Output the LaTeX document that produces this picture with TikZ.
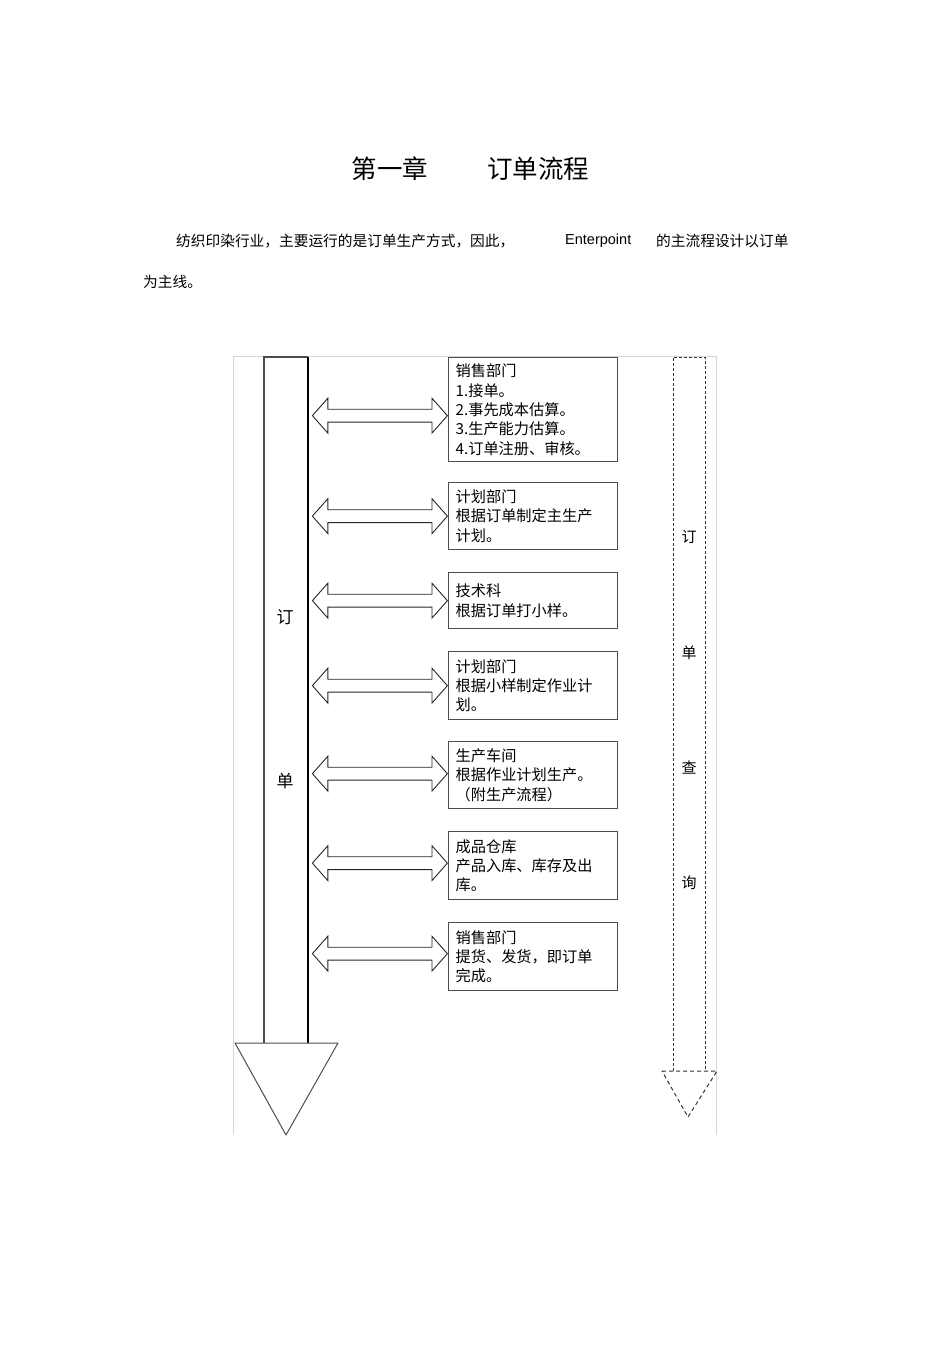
\documentclass[tikz,border=0pt]{standalone}
\usepackage{fontspec}
\setmainfont{Noto Sans CJK SC}
\newfontfamily\enfont{Liberation Sans}
\usetikzlibrary{shapes.arrows}
\definecolor{framegray}{gray}{0.84}
\definecolor{linegray}{gray}{0.3}
\begin{document}
\begin{tikzpicture}[x=1pt, y=-1pt,
	stepbox/.style={draw=linegray, line width=1.3pt, minimum width=169pt, text width=155pt, align=left, inner xsep=7pt, inner ysep=0pt, anchor=north west, font=\fontsize{15.2}{19.3}\selectfont},
	dbl/.style={double arrow, draw=black!85, line width=0.9pt, fill=white, minimum height=135pt, double arrow head extend=11pt, double arrow tip angle=97, inner sep=0pt, inner ysep=6pt, anchor=east},
	lbl/.style={inner sep=0pt, font=\fontsize{15}{15}\selectfont}]
	\useasboundingbox (0,0) rectangle (950,1345);
		\node[font=\fontsize{25.5}{25.5}\selectfont] (t1) at (390,169) {第一章};
		\node[font=\fontsize{25.5}{25.5}\selectfont] (t2) at (538,169) {订单流程};
		\node[anchor=west, inner sep=0pt, font=\fontsize{14.7}{14.7}\selectfont] (p1) at (176,241) {纺织印染行业，主要运行的是订单生产方式，因此，};
		\node[anchor=west, inner sep=0pt, font=\enfont\fontsize{14.5}{14.5}\selectfont] (p2) at (565,241) {Enterpoint};
		\node[anchor=west, inner sep=0pt, font=\fontsize{14.7}{14.7}\selectfont] (p3) at (656,241) {的主流程设计以订单};
		\node[anchor=west, inner sep=0pt, font=\fontsize{14.7}{14.7}\selectfont] (p4) at (143,282) {为主线。};
		\draw[framegray, line width=0.8pt] (233,1135) -- (233,356) -- (716,356) -- (716,1135);
		\draw[linegray, line width=1.3pt] (264,1043) -- (264,357) -- (308,357);
		\draw[black, line width=2pt] (308,357) -- (308,1043);
		\draw[linegray, line width=1pt, line join=round] (235,1043) -- (338,1043) -- (286,1135) -- cycle;
		\node[lbl, font=\fontsize{17}{17}\selectfont] (m1) at (285,617) {订};
		\node[lbl, font=\fontsize{17}{17}\selectfont] (m2) at (285,781) {单};
		\draw[black!80, line width=1pt, dash pattern=on 3pt off 2pt] (673,1071) -- (673,357) -- (705,357) -- (705,1071);
		\draw[black!80, line width=1pt, dash pattern=on 4pt off 3pt] (662,1071) -- (717,1071) -- (688,1117) -- cycle;
		\node[lbl] (q1) at (689,537) {订};
		\node[lbl] (q2) at (689,653) {单};
		\node[lbl] (q3) at (689,768) {查};
		\node[lbl] (q4) at (689,883) {询};
		\node[stepbox, minimum height=104pt] (b1) at (448,357) {销售部门\\1.接单。\\2.事先成本估算。\\3.生产能力估算。\\4.订单注册、审核。};
		\node[stepbox, minimum height=67pt] (b2) at (448,482) {计划部门\\根据订单制定主生产\\计划。};
		\node[stepbox, minimum height=56pt] (b3) at (448,572) {技术科\\根据订单打小样。};
		\node[stepbox, minimum height=68pt] (b4) at (448,651) {计划部门\\根据小样制定作业计\\划。};
		\node[stepbox, minimum height=67pt] (b5) at (448,741) {生产车间\\根据作业计划生产。\\（附生产流程）};
		\node[stepbox, minimum height=68pt] (b6) at (448,831) {成品仓库\\产品入库、库存及出\\库。};
		\node[stepbox, minimum height=68pt] (b7) at (448,922) {销售部门\\提货、发货，即订单\\完成。};
		\node[dbl] (a1) at ([yshift=-6pt]b1.west) {};
		\node[dbl] (a2) at (b2.west) {};
		\node[dbl] (a3) at (b3.west) {};
		\node[dbl] (a4) at (b4.west) {};
		\node[dbl] (a5) at ([yshift=1.5pt]b5.west) {};
		\node[dbl] (a6) at ([yshift=2.5pt]b6.west) {};
		\node[dbl] (a7) at ([yshift=3pt]b7.west) {};
	\end{tikzpicture}
\end{document}
